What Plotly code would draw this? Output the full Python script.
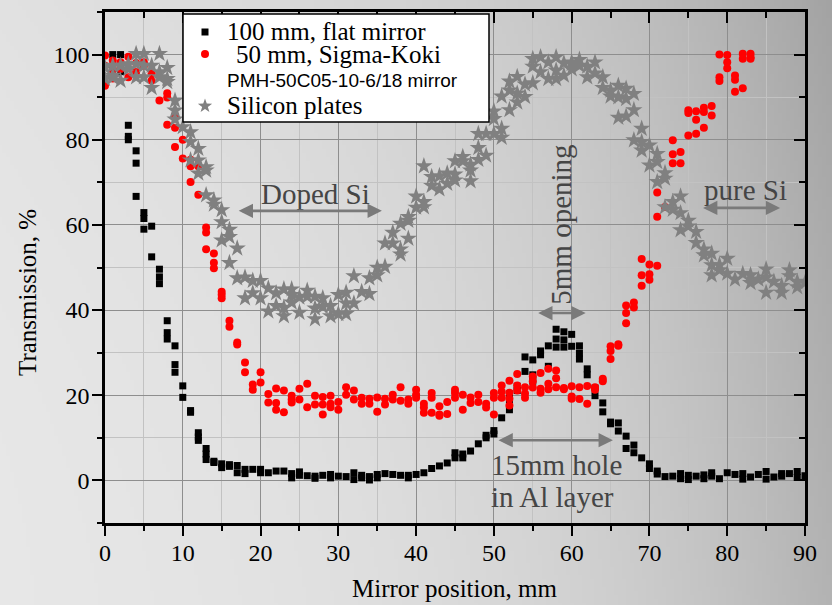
import base64, struct, zlib, math
import plotly.graph_objects as go

# ---------------- data ----------------
flat_x = [1,1,2,2,3,3,3,4,4,4,5,5,5,6,6,7,7,7,8,8,8,9,9,9,10,10,11,11,12,12,12,13,13,13,14,14,15,15,16,16,
          17,17,18,18,19,20,20,21,22,23,24,24,25,25,26,27,27,28,29,29,30,31,32,32,33,33,34,34,35,35,36,37,38,39,39,40,
          41,42,43,44,45,45,46,46,47,48,49,49,50,50,51,52,52,52,53,53,54,54,55,55,55,56,56,57,57,58,58,58,
          59,59,59,60,60,61,61,61,62,62,63,63,64,64,65,65,66,66,67,67,68,68,69,70,70,71,71,72,73,74,74,75,75,
          76,77,77,78,78,79,80,81,82,82,83,84,85,85,86,87,87,88,89,89,90]
flat_y = [100,97,100,96,83.4,80.8,80.0,77.4,74.5,66.7,62.9,61.5,59.0,59.7,52.5,49.6,47.8,46.2,37.5,34.7,33.2,
          31.6,27.2,25.4,22.2,19.5,16.4,16.0,11.2,10.2,9.4,7.5,6.2,4.9,4.5,4.2,3.9,3.0,3.7,3.3,
          3.5,1.8,2.6,1.6,2.6,2.6,1.8,1.8,2.2,2.2,1.6,0.6,2.0,1.2,1.1,1.0,0.5,1.2,1.4,0.6,1.0,0.9,1.8,0.2,1.2,0.6,
          0.9,0.1,1.4,0.6,1.6,1.4,1.2,1.2,0.6,1.4,
          1.8,2.8,3.4,4.1,6.5,5.3,6.2,5.3,6.9,8.6,10.6,10.0,11.7,10.9,14.7,16.6,19.0,20.3,21.1,22.1,25.6,29.0,
          28.3,24.8,23.3,30.4,29.5,31.6,26.8,35.5,33.2,31.3,
          34.9,33.0,31.3,34.3,31.5,31.6,29.9,28.5,26.2,24.8,21.7,19.9,18.2,16.1,13.7,13.3,13.5,11.6,10.4,7.5,
          8.3,6.5,5.3,3.9,2.8,2.2,1.5,0.9,1.0,1.6,0.4,1.2,0.2,
          1.0,1.3,0.4,1.8,1.0,0.4,1.8,1.4,1.6,0.3,0.8,1.4,2.1,0.3,0.8,1.6,1.0,1.6,2.1,0.7,1.1]

sigma_x = [0,0,0,1,1,1,2,2,3,3,4,4,5,5,6,6,7,8,8,8,9,9,9,10,10,11,11,11,12,12,13,13,13,14,14,14,15,15,15,
           16,16,17,17,18,18,19,19,20,20,21,21,22,22,22,23,23,24,24,24,25,25,26,26,27,27,28,28,28,29,29,29,
           30,30,31,31,32,32,33,33,34,34,35,35,36,36,37,37,38,38,39,39,40,40,40,41,41,41,42,42,42,43,43,43,
           44,44,45,45,45,46,46,47,47,48,48,49,49,50,50,50,51,51,51,52,52,52,52,53,53,53,54,54,54,55,55,55,
           56,56,56,57,57,57,58,58,58,59,59,60,60,60,61,61,62,62,63,63,64,64,65,65,65,66,66,67,67,67,68,68,
           69,69,69,70,70,70,71,71,71,72,73,73,73,74,74,75,75,75,76,76,76,77,77,77,78,78,79,79,79,80,80,80,
           81,81,81,82,82,82,83,83,83]
sigma_y = [99.8,97.4,92.7,98.6,96.3,94.4,98.2,96.6,99.5,94.7,98.0,95.9,98.2,97.4,95.6,93.9,89.2,90.9,89.9,83.5,
           85.7,82.8,78.3,80.0,75.6,75.3,73.8,70.1,73.8,67.1,59.4,58.2,54.3,53.3,51.1,49.8,44.3,43.6,42.8,
           37.5,36.1,32.4,31.9,27.7,25.4,22.5,21.3,25.4,23.0,20.3,18.3,21.6,18.2,16.6,21.1,16.0,19.9,19.0,18.3,
           21.5,19.0,22.7,17.2,19.9,17.8,19.6,17.8,15.5,19.9,18.0,17.2,
           18.4,16.6,21.9,20.1,21.1,19.0,19.4,18.0,19.2,18.0,19.5,16.1,19.2,17.8,20.1,19.0,21.9,18.7,19.0,18.0,
           21.3,20.1,19.4,18.0,17.1,15.9,20.5,19.4,15.9,17.4,15.5,15.2,
           18.4,15.6,21.3,20.5,19.4,20.1,16.6,19.5,18.2,20.1,18.4,18.0,17.1,20.5,19.4,15.5,22.3,20.8,19.4,
           23.4,20.6,19.2,17.6,25.0,22.3,21.1,21.9,20.4,19.4,24.4,23.3,21.8,
           25.2,21.5,20.6,26.2,22.7,21.4,25.8,24.0,21.9,21.7,21.4,22.1,19.7,19.2,21.9,19.1,22.2,18.0,21.9,21.3,
           23.9,23.3,31.5,30.4,28.5,32.0,31.6,41.1,39.3,36.9,41.8,40.6,
           52.0,48.2,45.7,50.7,48.4,47.1,50.4,61.9,67.6,64.2,79.9,76.6,74.5,77.1,74.5,86.9,86.3,81.0,
           86.7,84.7,81.4,87.5,86.5,82.8,87.9,85.7,100.0,94.7,93.8,99.9,98.2,96.8,
           95.1,94.1,91.3,100.2,99.0,92.1,100.2,99.4,99.0]

si_x = [0,0,1,1,1,2,2,3,3,4,4,4,5,5,5,6,6,7,7,7,8,8,8,9,9,9,10,11,11,11,12,12,12,13,13,13,14,14,
        15,15,15,16,16,16,17,17,18,18,19,19,20,20,21,21,22,22,23,23,23,24,24,24,25,25,26,26,27,27,27,
        28,28,29,29,30,30,31,31,31,32,32,33,34,34,35,35,36,36,37,37,38,38,38,39,39,39,40,40,41,41,41,
        42,42,43,43,44,44,45,45,45,46,46,47,47,47,48,48,48,49,49,50,50,50,51,51,51,52,52,52,53,53,53,
        54,54,55,55,55,56,56,57,57,58,58,58,59,59,60,60,60,61,61,62,62,63,63,64,64,65,65,66,66,66,
        67,67,67,68,68,68,69,69,69,70,70,71,71,71,72,72,72,73,73,74,74,74,75,75,76,76,77,77,78,78,78,
        79,79,80,80,81,82,83,83,84,85,85,85,86,87,87,88,88,89,89,90]
si_y = [97.0,94.3,97.4,95.1,94.6,97.4,93.9,97.8,96.6,100.2,97.8,94.7,100.2,97.4,94.7,97.4,92.2,100.2,95.9,94.7,
        96.9,94.3,93.6,89.2,86.9,84.8,83.0,81.8,79.5,75.2,77.9,75.2,72.1,73.6,72.8,67.0,65.8,64.8,
        63.5,60.7,56.4,58.9,57.2,51.1,54.5,47.5,47.7,42.8,46.9,44.0,46.9,42.8,45.1,39.7,44.0,41.0,44.9,40.6,38.6,
        44.9,43.6,41.8,43.0,39.4,44.6,43.2,43.2,40.4,37.9,
        42.8,40.8,41.0,38.6,43.6,39.1,44.1,41.6,39.1,48.0,41.6,44.3,47.5,43.8,50.0,48.2,55.7,50.2,58.2,55.7,
        60.3,54.3,53.1,61.9,61.0,56.8,66.7,64.1,73.8,65.4,64.2,
        71.3,69.2,71.5,68.4,72.1,69.7,75.0,71.9,70.5,76.0,75.0,74.2,72.8,70.3,81.4,78.1,75.3,81.4,76.3,
        86.7,84.9,81.4,90.2,82.6,80.5,93.7,91.6,87.0,94.8,90.9,88.8,
        93.0,90.1,99.0,97.2,93.3,99.4,95.9,98.2,94.3,99.4,96.3,94.3,98.0,95.1,98.2,97.8,96.6,98.8,97.4,
        97.2,94.7,98.2,95.6,94.7,92.2,91.6,90.2,92.7,90.0,85.2,
        92.0,89.6,85.5,90.8,87.0,79.9,82.6,79.5,77.5,78.7,74.0,76.7,74.8,70.1,72.2,70.9,64.2,65.4,63.6,
        66.7,62.8,58.8,61.0,59.7,58.4,55.8,54.3,52.9,53.3,50.6,48.2,
        50.6,49.4,52.1,48.6,47.2,48.5,48.2,46.4,47.2,49.6,47.7,44.1,46.7,45.7,44.1,49.4,48.0,46.7,45.4,46.4]

series_names = ["100 mm, flat mirror", "50 mm, Sigma-Koki", "PMH-50C05-10-6/18 mirror", "Silicon plates"]
x_ticks = [0, 10, 20, 30, 40, 50, 60, 70, 80, 90]
y_ticks = [0, 20, 40, 60, 80, 100]

# ---------------- geometry ----------------
W, H = 832, 605
L, R, T, B = 105, 805, 12, 523   # plot area in pixels


def P(px, py):
    return (px - L) / (R - L), (B - py) / (B - T)


SERIF = "Liberation Serif"
SANS = "Liberation Sans"

# ---------------- background gradient as an image ----------------
gw, gh = 208, 152
rows = []
for j in range(gh):
    t = j / (gh - 1)
    row = bytearray()
    for i in range(gw):
        u = i / (gw - 1)
        v = 231 - 12 * u - 40 * u ** 3 - 10 * (1 - t) * u - 6 * (1 - t) ** 2
        row.append(max(0, min(255, int(round(v)))))
    rows.append(bytes(row))


def make_png(w, h, rws):
    raw = b"".join(b"\x00" + r for r in rws)

    def chunk(tag, data):
        c = struct.pack(">I", len(data)) + tag + data
        return c + struct.pack(">I", zlib.crc32(tag + data) & 0xFFFFFFFF)

    return (b"\x89PNG\r\n\x1a\n" + chunk(b"IHDR", struct.pack(">IIBBBBB", w, h, 8, 0, 0, 0, 0))
            + chunk(b"IDAT", zlib.compress(raw)) + chunk(b"IEND", b""))


bg_src = "data:image/png;base64," + base64.b64encode(make_png(gw, gh, rows)).decode()

# ---------------- traces ----------------
fig = go.Figure()
fig.add_trace(go.Scatter(x=flat_x, y=flat_y, mode="markers", name=series_names[0],
                         marker=dict(symbol="square", size=7, color="black", line=dict(width=0))))
fig.add_trace(go.Scatter(x=sigma_x, y=sigma_y, mode="markers", name=series_names[1],
                         marker=dict(symbol="circle", size=8, color="#ff0000", line=dict(width=0))))
fig.add_trace(go.Scatter(x=si_x, y=si_y, mode="markers", name=series_names[3],
                         marker=dict(symbol="star", size=13, color="#808080", line=dict(width=0))))
# empty trace to hold the mirrored (inside-tick) axes
fig.add_trace(go.Scatter(x=[], y=[], xaxis="x2", yaxis="y2", showlegend=False, hoverinfo="skip"))

axis_common = dict(showline=True, linecolor="black", linewidth=2.5, zeroline=False,
                   tickcolor="black", tickwidth=2)

fig.update_layout(
    width=W, height=H,
    margin=dict(l=L, r=W - R, t=T, b=H - B, pad=0),
    paper_bgcolor="#d8d8d8",
    plot_bgcolor="rgba(0,0,0,0)",
    showlegend=False,
    font=dict(family=SERIF, size=24, color="black"),
    images=[dict(source=bg_src, xref="paper", yref="paper",
                 x=-L / (R - L), y=1 + T / (B - T),
                 sizex=W / (R - L), sizey=H / (B - T),
                 xanchor="left", yanchor="top", sizing="stretch", layer="below")],
    xaxis=dict(range=[0, 90], tickmode="array", tickvals=x_ticks, ticktext=[str(v) for v in x_ticks],
               ticks="outside", ticklen=10, ticklabelstandoff=-4,
               showgrid=True, gridcolor="#8e8e8e", gridwidth=1.3,
               minor=dict(dtick=5, tick0=0, ticks="outside", ticklen=5, tickwidth=2, tickcolor="black",
                          showgrid=True, gridcolor="#c2c2c2", gridwidth=1.3),
               tickfont=dict(family=SERIF, size=24), **axis_common),
    yaxis=dict(range=[-10, 110], tickmode="array", tickvals=y_ticks, ticktext=[str(v) for v in y_ticks],
               ticks="outside", ticklen=10, ticklabelstandoff=-2,
               showgrid=True, gridcolor="#8e8e8e", gridwidth=1.3,
               minor=dict(dtick=10, tick0=0, ticks="outside", ticklen=5, tickwidth=2, tickcolor="black",
                          showgrid=True, gridcolor="#c2c2c2", gridwidth=1.3),
               tickfont=dict(family=SERIF, size=24), **axis_common),
    xaxis2=dict(range=[0, 90], overlaying="x", side="top", anchor="y2", dtick=10, tick0=0,
                ticks="inside", ticklen=11, showticklabels=False, showgrid=False,
                minor=dict(dtick=5, tick0=0, ticks="inside", ticklen=6, tickwidth=2, tickcolor="black",
                           showgrid=False), **axis_common),
    yaxis2=dict(range=[-10, 110], overlaying="y", side="right", anchor="x2", dtick=20, tick0=0,
                ticks="inside", ticklen=11, showticklabels=False, showgrid=False,
                minor=dict(dtick=10, tick0=0, ticks="inside", ticklen=6, tickwidth=2, tickcolor="black",
                           showgrid=False), **axis_common),
)

ann = []
# axis titles
tx, ty = P(454, 588)
ann.append(dict(text="Mirror position, mm", xref="paper", yref="paper", x=tx, y=ty, showarrow=False,
                xanchor="center", yanchor="middle", font=dict(family=SERIF, size=25, color="black")))
tx, ty = P(27, 293)
ann.append(dict(text="Transmission, %", xref="paper", yref="paper", x=tx, y=ty, showarrow=False, textangle=-90,
                xanchor="center", yanchor="middle", font=dict(family=SERIF, size=25, color="black")))

# in-plot labels
lab_font = dict(family=SERIF, size=29, color="#454545")
ann.append(dict(text="Doped Si", x=27.1, y=67.2, showarrow=False, font=lab_font))
ann.append(dict(text="5mm opening", x=58.6, y=60.0, showarrow=False, textangle=-90, font=lab_font))
ann.append(dict(text="15mm hole", x=58.1, y=3.6, showarrow=False, font=lab_font))
ann.append(dict(text="in Al layer", x=57.5, y=-3.9, showarrow=False, font=lab_font))
ann.append(dict(text="pure Si", x=82.4, y=68.3, showarrow=False, font=lab_font))

# double-headed arrows
for x0, x1, yy in [(17.0, 35.6, 63.3), (55.5, 61.8, 39.3), (50.4, 65.3, 9.45), (76.7, 86.8, 64.0)]:
    ann.append(dict(text="", x=x1, y=yy, ax=x0, ay=yy, axref="x", ayref="y", xref="x", yref="y",
                    showarrow=True, arrowside="end+start", arrowhead=2, startarrowhead=2,
                    arrowsize=1.1, startarrowsize=1.1, arrowwidth=2.6, arrowcolor="#7a7a7a"))

# legend text (line boxes kept small so rows do not collide)
legend_rows = [(series_names[0], 226, 31, SERIF, 25), (series_names[1], 235, 54, SERIF, 25),
               (series_names[2], 226, 80, SANS, 19), (series_names[3], 226, 105, SERIF, 25)]
for txt, px, py, fam, fs in legend_rows:
    lx, ly = P(px, py)
    ann.append(dict(text=txt, xref="paper", yref="paper", x=lx, y=ly, xanchor="left", yanchor="middle",
                    showarrow=False, borderpad=0, font=dict(family=fam, size=fs, color="black")))

fig.update_layout(annotations=ann)

# legend box and swatches (layout shapes)
shapes = []
x0, y0 = P(183, 122)
x1, y1 = P(489, 14)
shapes.append(dict(type="rect", xref="paper", yref="paper", x0=x0, y0=y0, x1=x1, y1=y1,
                   fillcolor="white", line=dict(color="black", width=1.5), layer="above"))
x0, y0 = P(201.5, 35.5)
x1, y1 = P(208.5, 28.5)
shapes.append(dict(type="rect", xref="paper", yref="paper", x0=x0, y0=y0, x1=x1, y1=y1,
                   fillcolor="black", line=dict(width=0), layer="above"))
x0, y0 = P(201, 58)
x1, y1 = P(209, 50)
shapes.append(dict(type="circle", xref="paper", yref="paper", x0=x0, y0=y0, x1=x1, y1=y1,
                   fillcolor="#ff0000", line=dict(width=0), layer="above"))
cx, cy, ro, ri = 205, 106, 7.5, 3.0
pts = []
for k in range(10):
    r = ro if k % 2 == 0 else ri
    a = -math.pi / 2 + k * math.pi / 5
    pts.append(P(cx + r * math.cos(a), cy + r * math.sin(a)))
path = "M " + " L ".join(f"{a:.5f},{b:.5f}" for a, b in pts) + " Z"
shapes.append(dict(type="path", xref="paper", yref="paper", path=path,
                   fillcolor="#808080", line=dict(width=0), layer="above"))
fig.update_layout(shapes=shapes)

fig.write_html("out.html", config={"displayModeBar": False},
               post_script="document.body.style.margin='0px';document.body.style.overflow='hidden';")
